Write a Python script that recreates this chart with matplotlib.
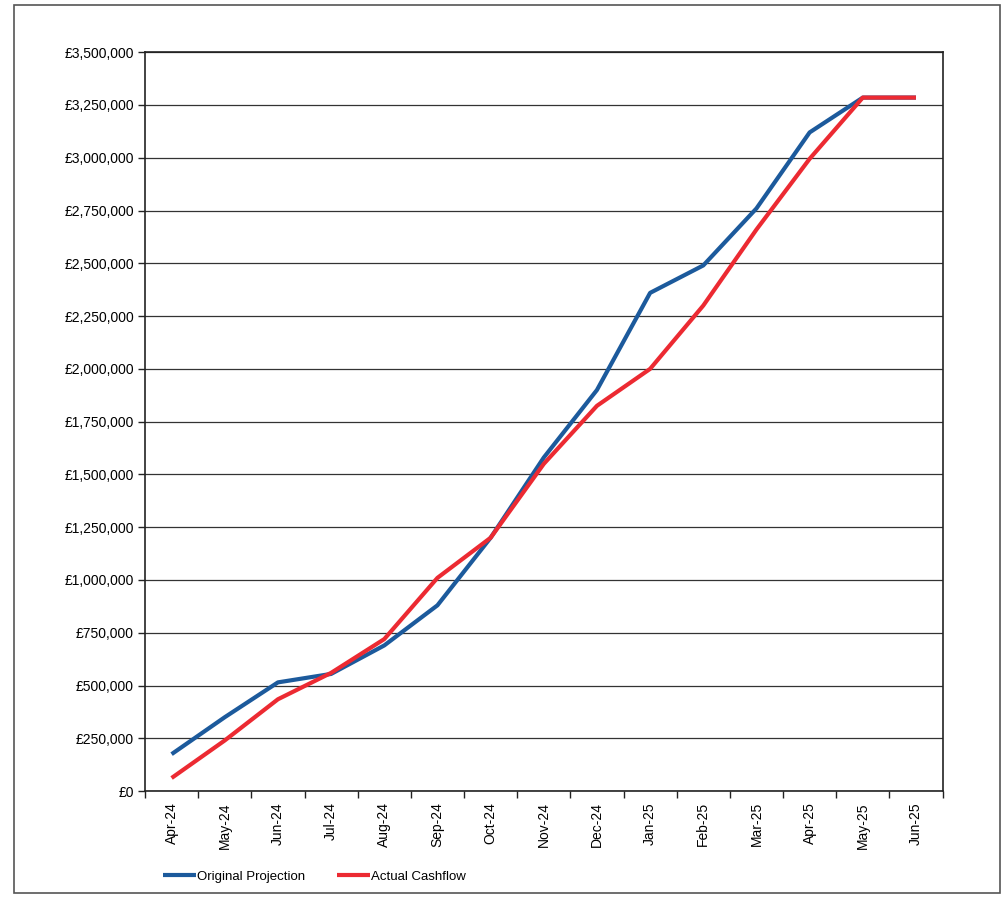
import matplotlib
matplotlib.use("Agg")
import matplotlib.pyplot as plt
from matplotlib.patches import Rectangle
from matplotlib.ticker import FuncFormatter, FixedLocator
import numpy as np

plt.rcParams["font.family"] = ["Liberation Sans", "DejaVu Sans"]

# data
months = ["Apr-24", "May-24", "Jun-24", "Jul-24", "Aug-24", "Sep-24", "Oct-24", "Nov-24",
          "Dec-24", "Jan-25", "Feb-25", "Mar-25", "Apr-25", "May-25", "Jun-25"]
original_projection = [175000, 350000, 515000, 555000, 690000, 880000, 1200000, 1580000,
                       1900000, 2360000, 2490000, 2760000, 3120000, 3285000, 3285000]
actual_cashflow = [62000, 240000, 435000, 560000, 720000, 1010000, 1200000, 1550000,
                   1825000, 2000000, 2300000, 2660000, 2995000, 3285000, 3285000]

fig = plt.figure(figsize=(10.07, 9.0), dpi=100)
ax = fig.add_axes([0.144, 0.121, 0.792, 0.821])

x = np.arange(len(months))
ax.plot(x, original_projection, color="#1c5a9c", linewidth=3.0, label="Original Projection",
        solid_capstyle="butt", zorder=3)
ax.plot(x, actual_cashflow, color="#ec2a32", linewidth=3.0, label="Actual Cashflow",
        solid_capstyle="butt", zorder=4)

ax.set_ylim(0, 3500000)
ax.set_xlim(-0.5, len(months) - 0.5)
ax.set_yticks(np.arange(0, 3500001, 250000))
ax.yaxis.set_major_formatter(FuncFormatter(lambda v, p: "£{:,.0f}".format(v)))
ax.grid(axis="y", color="#333333", linewidth=0.9)
ax.set_axisbelow(True)

# ticks on category boundaries, labels at centres
ax.xaxis.set_major_locator(FixedLocator(np.arange(-0.5, len(months), 1.0)))
ax.xaxis.set_major_formatter(FuncFormatter(lambda v, p: ""))
ax.xaxis.set_minor_locator(FixedLocator(x))
ax.set_xticklabels(months, minor=True, rotation=90)
ax.tick_params(axis="x", which="major", length=5, width=1, color="#222222")
ax.tick_params(axis="x", which="minor", length=0, pad=8, labelsize=10)
ax.tick_params(axis="y", length=5, width=1, color="#222222", labelsize=10, pad=3)

for s in ax.spines.values():
    s.set_color("#222222")
    s.set_linewidth(1.2)

fig.legend(loc="lower left", bbox_to_anchor=(0.150, 0.006), ncol=2, frameon=False,
           fontsize=9.5, handlelength=2.5, handletextpad=0.1, columnspacing=2.4)

# scanned page border
fig.add_artist(Rectangle((0.014, 0.008), 0.979, 0.986, transform=fig.transFigure,
                         fill=False, edgecolor="#555555", linewidth=1.2))

fig.savefig("out.png", dpi=100)
plt.close(fig)
